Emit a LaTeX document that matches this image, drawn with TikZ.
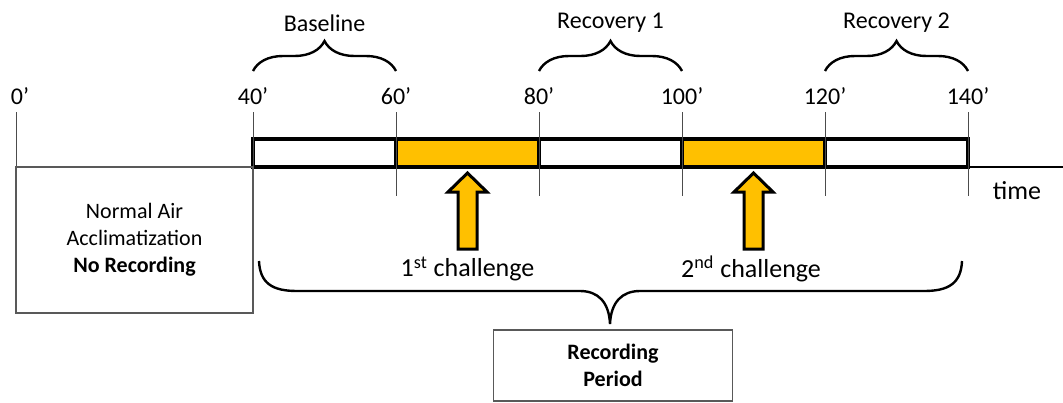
\documentclass[tikz,border=0pt]{standalone}
\usepackage{fontspec}
\setmainfont{Carlito}
\usetikzlibrary{chains,positioning,decorations.pathreplacing}
\definecolor{barorange}{HTML}{FFC000}

\begin{document}
\begin{tikzpicture}[
x=0.5pt, y=-0.5pt,
node distance=0pt,
 start chain = A going right,
    X/.style = {rectangle, draw, line width=1.8pt,% white bars of the time line
                minimum width=71.5pt, minimum height=14pt,
                outer sep=0pt, on chain},
    Y/.style = {X, fill=barorange},% orange challenge bars
    tickline/.style = {line width=0.5pt, draw=black!70},
    lbl/.style = {font=\fontsize{12}{14}\selectfont, inner sep=0pt},
    big/.style = {font=\fontsize{13}{15}\selectfont, inner sep=0pt},
    brc/.style = {decorate, decoration={brace, amplitude=15pt}, line width=1.2pt},
    note/.style = {rectangle, draw=black!65, line width=0.8pt, align=center,
                outer sep=0pt, font=\fontsize{11}{13.5}\selectfont},
                        ]
\useasboundingbox (0,0) rectangle (1063,402);
% time line
\draw[line width=0.65pt] (16,167) -- (1063,167);
\node[big] (time) at (1017,191) {time};
% bars
\node[X, anchor=west] at (253,152.8) {};
\node[Y] {};
\node[X] {};
\node[Y] {};
\node[X] {};
% ticks and minutes
\draw[tickline] (16,112) -- (16,167);
\node[lbl] (m0) at (20,96) {0’};
\foreach \x/\m in {253/40,396/60,539/80,682/100,825/120,968/140}{
    \draw[tickline] (\x,112) -- (\x,196);
    \node[lbl] (m\m) at (\x,96) {\m’};
}
% phases
\draw[brc] (253,71) -- (396,71);
\node[lbl] (base) at (324.5,23) {Baseline};
\draw[brc] (539,71) -- (682,71);
\node[lbl] (rec1) at (610.5,23) {Recovery 1};
\draw[brc] (825,71) -- (968,71);
\node[lbl] (rec2) at (896.5,23) {Recovery 2};
% challenges
\foreach \ax in {467.5,753.5}
    \draw[fill=barorange, line width=1.5pt, line join=miter]
        (\ax-9.5,249) -- (\ax-9.5,192) -- (\ax-19.5,192) -- (\ax,173)
        -- (\ax+19.5,192) -- (\ax+9.5,192) -- (\ax+9.5,249) -- cycle;
\node[big] (ch1) at (467.5,269) {1\textsuperscript{st} challenge};
\node[big] (ch2) at (751,269) {2\textsuperscript{nd} challenge};
% boxes
\node[note, minimum width=118.5pt, minimum height=73pt] (acclim) at (134.5,240)
    {Normal Air\\Acclimatization\\\textbf{No Recording}};
\draw[line width=1.2pt] (259,261) .. controls (260,283) and (272,291) .. (297,291)
    -- (580,291) .. controls (598,291) and (609,302) .. (610,324)
    .. controls (611,302) and (622,291) .. (640,291)
    -- (924,291) .. controls (949,291) and (961,283) .. (962,261);
\node[note, minimum width=119.5pt, minimum height=35.5pt] (period) at (613,365.5)
    {\textbf{Recording}\\\textbf{Period}};
\end{tikzpicture}
\end{document}
